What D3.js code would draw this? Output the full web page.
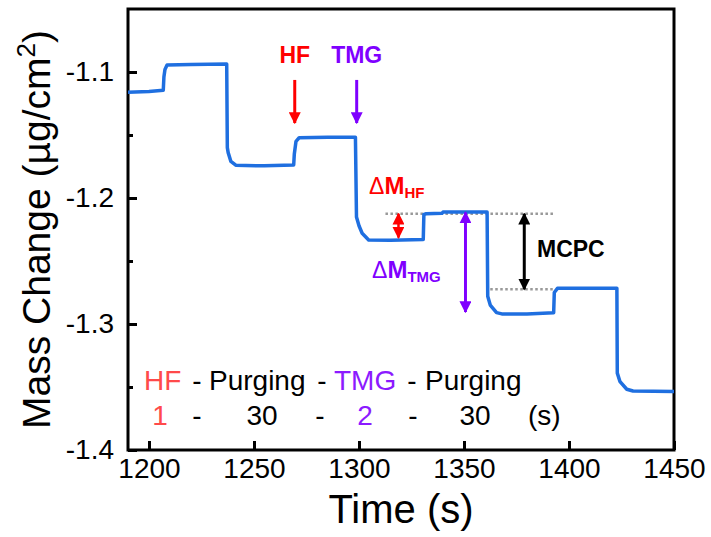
<!DOCTYPE html>
<html>
<head>
<meta charset="utf-8">
<script src="https://cdn.jsdelivr.net/npm/d3@7"></script>
<style>
  body { margin: 0; background: #fff; }
  text { font-family: Arial, "Liberation Sans", sans-serif; }
</style>
</head>
<body>
<svg></svg>
<script>
const width = 711;
const height = 537;
const margin = {top: 9, right: 37, bottom: 87, left: 128};

// QCM trace
const times = [1190, 1200, 1206.8, 1207.1, 1207.6, 1208.6, 1220, 1237.0, 1237.3, 1237.7, 1239, 1241.3, 1255, 1268.9,
  1269.2, 1270, 1271.5, 1285, 1298.3, 1298.8, 1300, 1301.5, 1304.6, 1315, 1330.6, 1330.9, 1332, 1339.5, 1340, 1361.0,
  1361.3, 1362.5, 1365.5, 1368, 1380, 1392.7, 1393.0, 1394.5, 1410, 1422.8, 1423.0, 1424.3, 1427.5, 1430.5, 1450];
const masses = [-1.116, -1.1155, -1.1145, -1.104, -1.098, -1.0945, -1.094, -1.0937, -1.160, -1.164, -1.171, -1.174, -1.1745, -1.1738,
  -1.165, -1.155, -1.1522, -1.1518, -1.1518, -1.215, -1.222, -1.228, -1.2333, -1.2335, -1.233, -1.213, -1.2125, -1.2122, -1.2112, -1.2112,
  -1.278, -1.285, -1.291, -1.292, -1.292, -1.291, -1.275, -1.2717, -1.2717, -1.2717, -1.339, -1.3458, -1.3518, -1.3532, -1.3535];

const xTicks = [1200, 1250, 1300, 1350, 1400, 1450];
const yTicks = [-1.4, -1.3, -1.2, -1.1];
const yMinorTicks = [-1.35, -1.25, -1.15];

// annotations
const pulseLabels = ["HF", "TMG"];
const pulseTimes = [1269.4, 1298.9];
const refLevels = [-1.2125, -1.2725];
const refStarts = [1312.6, 1362.5];
const refEnds = [1392.5, 1393.5];
const deltaTimes = [1318.8, 1350.7, 1378.7];
const deltaTops = [-1.2125, -1.2115, -1.2125];
const deltaBottoms = [-1.2315, -1.2905, -1.2725];

const red = "#ff0000";
const purple = "#7f00ff";
const blue = "#1f6fe0";

const svg = d3.select("svg").attr("width", width).attr("height", height);

const x = d3.scaleLinear().domain([1190, 1450]).range([margin.left, width - margin.right]);
const y = d3.scaleLinear().domain([-1.4, -1.05]).range([height - margin.bottom, margin.top]);

// markers
const defs = svg.append("defs");
function marker(id, color) {
	defs.append("marker")
	.attr("id", id)
	.attr("viewBox", "0 0 10 10")
	.attr("refX", 9)
	.attr("refY", 5)
	.attr("markerUnits", "userSpaceOnUse")
	.attr("markerWidth", 12)
	.attr("markerHeight", 12)
	.attr("orient", "auto-start-reverse")
	.append("path")
	.attr("d", "M0,0 L10,5 L0,10 Z")
	.attr("fill", color);
}
marker("arRed", red);
marker("arPurple", purple);
marker("arBlack", "#000");

// axes
const xAxis = d3.axisBottom(x).tickValues(xTicks).tickSizeInner(-9).tickSizeOuter(0).tickPadding(8)
	.tickFormat(d3.format("d"));
const gx = svg.append("g")
	.attr("transform", `translate(0,${height - margin.bottom})`)
	.call(xAxis);

const yAxis = d3.axisLeft(y).tickValues(yTicks).tickSizeInner(-9).tickSizeOuter(0).tickPadding(14)
	.tickFormat(d => d.toFixed(1));
const gy = svg.append("g")
	.attr("transform", `translate(${margin.left},0)`)
	.call(yAxis);

svg.append("g")
	.attr("transform", `translate(${margin.left},0)`)
	.call(d3.axisLeft(y).tickValues(yMinorTicks).tickSizeInner(-5).tickSizeOuter(0).tickFormat(""));

svg.selectAll(".domain").remove();
svg.selectAll(".tick line").attr("stroke", "#000").attr("stroke-width", 3);
gx.selectAll("text").attr("font-size", 28).attr("fill", "#000");
gy.selectAll("text").attr("font-size", 28).attr("fill", "#000");

// frame
svg.append("rect")
	.attr("x", margin.left)
	.attr("y", margin.top)
	.attr("width", width - margin.left - margin.right)
	.attr("height", height - margin.top - margin.bottom)
	.attr("fill", "none")
	.attr("stroke", "#000")
	.attr("stroke-width", 3);

// dotted reference lines
svg.selectAll(".ref")
	.data(refLevels)
	.join("line")
	.attr("x1", (d, i) => x(refStarts[i]))
	.attr("x2", (d, i) => x(refEnds[i]))
	.attr("y1", d => y(d))
	.attr("y2", d => y(d))
	.attr("stroke", "#999")
	.attr("stroke-width", 2.5)
	.attr("stroke-dasharray", "2.5,2.5");

// trace
const line = d3.line()
	.x((d, i) => x(times[i]))
	.y(d => y(d));

svg.append("path")
	.attr("d", line(masses))
	.attr("fill", "none")
	.attr("stroke", blue)
	.attr("stroke-width", 3.5)
	.attr("stroke-linejoin", "round");

// pulse arrows
const pulseColors = [red, purple];
const pulseMarkers = ["arRed", "arPurple"];
pulseTimes.forEach((t, i) => {
	svg.append("line")
	.attr("x1", x(t)).attr("x2", x(t))
	.attr("y1", y(-1.1063)).attr("y2", y(-1.1405))
	.attr("stroke", pulseColors[i])
	.attr("stroke-width", 3)
	.attr("marker-end", `url(#${pulseMarkers[i]})`);
	svg.append("text")
	.attr("x", x(t))
	.attr("y", 63)
	.attr("text-anchor", "middle")
	.attr("font-size", 23)
	.attr("font-weight", "bold")
	.attr("fill", pulseColors[i])
	.text(pulseLabels[i]);
});

// double arrows
const deltaColors = [red, purple, "#000"];
const deltaMarkers = ["arRed", "arPurple", "arBlack"];
deltaTimes.forEach((t, i) => {
	svg.append("line")
	.attr("x1", x(t)).attr("x2", x(t))
	.attr("y1", y(deltaTops[i])).attr("y2", y(deltaBottoms[i]))
	.attr("stroke", deltaColors[i])
	.attr("stroke-width", i === 0 ? 2.5 : 3)
	.attr("marker-start", `url(#${deltaMarkers[i]})`)
	.attr("marker-end", `url(#${deltaMarkers[i]})`);
});

function deltaLabel(px, py, sub, color) {
	const t = svg.append("text")
	.attr("x", px)
	.attr("y", py)
	.attr("fill", color)
	.attr("font-weight", "bold");
	t.append("tspan").attr("font-size", 23).attr("font-weight", "normal").text("\u0394");
	t.append("tspan").attr("font-size", 24).text("M");
	t.append("tspan").attr("font-size", 15).attr("dy", 4).text(sub);
}
deltaLabel(369, 194, "HF", red);
deltaLabel(372, 278, "TMG", purple);

svg.append("text")
	.attr("x", 537)
	.attr("y", 257)
	.attr("font-size", 23)
	.attr("font-weight", "bold")
	.attr("fill", "#000")
	.text("MCPC");

// recipe text
const lightRed = "#ff4a4a";
const lightPurple = "#8c1aff";
function word(px, py, s, color, anchor) {
	svg.append("text")
	.attr("x", px)
	.attr("y", py)
	.attr("font-size", 28)
	.attr("text-anchor", anchor || "start")
	.attr("fill", color)
	.text(s);
}
word(144, 390, "HF", lightRed);
word(197, 390, "-", "#000", "middle");
word(209, 390, "Purging", "#000");
word(322, 390, "-", "#000", "middle");
word(334, 390, "TMG", lightPurple);
word(412, 390, "-", "#000", "middle");
word(425, 390, "Purging", "#000");
word(160, 425, "1", lightRed, "middle");
word(197, 425, "-", "#000", "middle");
word(262, 425, "30", "#000", "middle");
word(320, 425, "-", "#000", "middle");
word(365, 425, "2", lightPurple, "middle");
word(413, 425, "-", "#000", "middle");
word(475, 425, "30", "#000", "middle");
word(528, 425, "(s)", "#000");

// axis titles
svg.append("text")
	.attr("x", (margin.left + width - margin.right) / 2)
	.attr("y", 523)
	.attr("text-anchor", "middle")
	.attr("font-size", 40)
	.attr("fill", "#000")
	.text("Time (s)");

const yt = svg.append("text")
	.attr("transform", `translate(50,${(margin.top + height - margin.bottom) / 2}) rotate(-90)`)
	.attr("text-anchor", "middle")
	.attr("font-size", 39)
	.attr("fill", "#000");
yt.append("tspan").text("Mass Change (\u00b5g/cm");
yt.append("tspan").attr("font-size", 26).attr("dy", -15).text("2");
yt.append("tspan").attr("dy", 15).text(")");
</script>
</body>
</html>
